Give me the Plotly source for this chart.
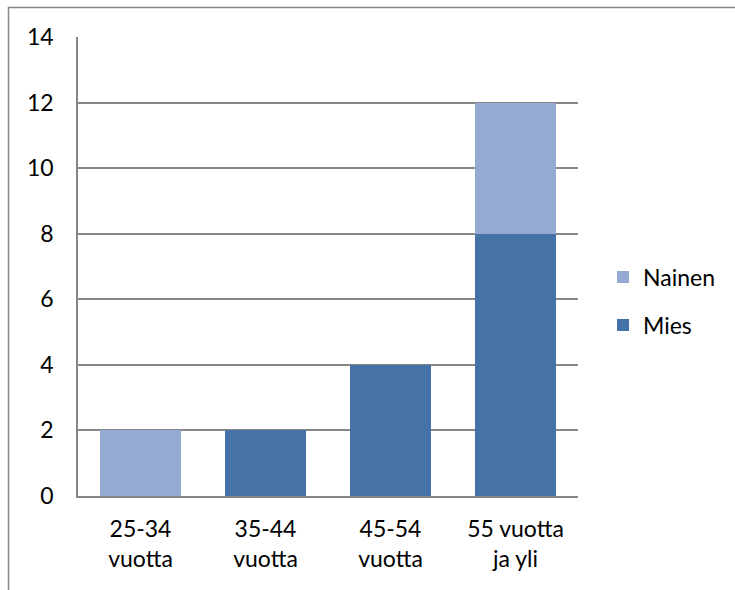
import plotly.graph_objects as go

# Age groups and counts by gender
categories = ["25-34<br>vuotta", "35-44<br>vuotta", "45-54<br>vuotta", "55 vuotta<br>ja yli"]
mies = [0, 2, 4, 8]
nainen = [2, 0, 0, 4]
y_ticks = [0, 2, 4, 6, 8, 10, 12, 14]

COLOR_MIES = "#4572A7"
COLOR_NAINEN = "#95AAD2"
GRID = "#868686"
FONT = dict(family="Lato, Carlito, Calibri, sans-serif", size=23, color="#000000")

fig = go.Figure()
fig.add_trace(go.Bar(x=categories, y=mies, name="Mies", marker=dict(color=COLOR_MIES, line=dict(width=0)),
                     legend="legend2", showlegend=True))
fig.add_trace(go.Bar(x=categories, y=nainen, name="Nainen", marker=dict(color=COLOR_NAINEN, line=dict(width=0)),
                     legend="legend", showlegend=True))

fig.update_layout(
    width=735, height=590,
    margin=dict(l=78, r=157, t=37, b=94),
    paper_bgcolor="white", plot_bgcolor="white",
    barmode="stack", bargap=0.35,
    font=FONT,
    showlegend=True,
    legend=dict(x=1.05, y=0.477, xanchor="left", yanchor="middle", font=FONT, bgcolor="rgba(0,0,0,0)"),
    legend2=dict(x=1.05, y=0.3725, xanchor="left", yanchor="middle", font=FONT, bgcolor="rgba(0,0,0,0)"),
    xaxis=dict(showgrid=False, showline=True, linecolor=GRID, linewidth=1.5, ticks="",
               tickfont=FONT, ticklabelstandoff=12),
    yaxis=dict(range=[0, 14], tickvals=y_ticks, showgrid=True, gridcolor=GRID, gridwidth=1.5,
               showline=True, linecolor=GRID, linewidth=1.5, zeroline=False, ticks="",
               tickfont=FONT, ticklabelstandoff=18),
    shapes=[dict(type="rect", xref="paper", yref="paper",
                 x0=-0.139, x1=1.33, y0=-0.25, y1=1.0643,
                 line=dict(color=GRID, width=1.5), fillcolor="rgba(0,0,0,0)", layer="below")],
)

fig.write_html("out.html")
